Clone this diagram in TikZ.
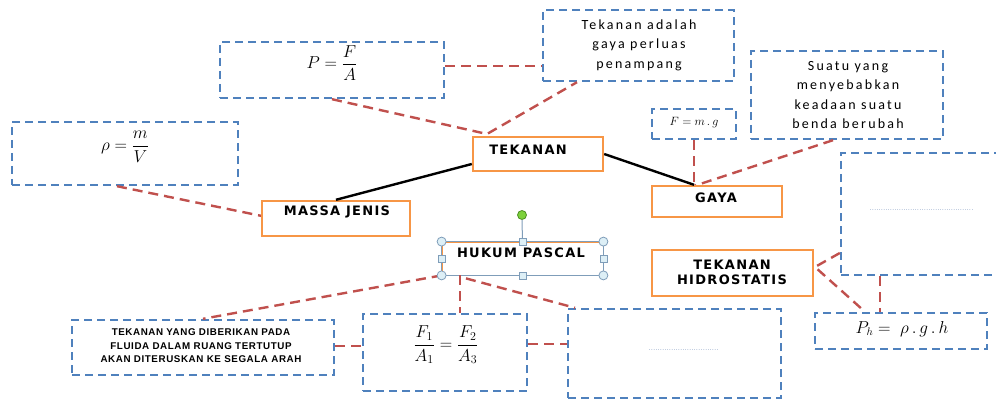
\documentclass[tikz,border=0pt]{standalone}
\usepackage{fontspec}
\newfontfamily\labfont[LetterSpace=10]{DejaVu Sans}
\newfontfamily\bodyfont[LetterSpace=16]{Carlito}
\newfontfamily\smallfont[LetterSpace=6]{Liberation Sans}
\definecolor{blueC}{HTML}{4F81BD}
\definecolor{orC}{HTML}{F79646}
\definecolor{redC}{HTML}{C0504D}
\definecolor{handleF}{HTML}{DDEFF6}
\definecolor{handleD}{HTML}{7F9DB9}
\definecolor{greenF}{HTML}{7CD13A}
\definecolor{greenD}{HTML}{4E8F24}
\definecolor{dotC}{HTML}{3F62A0}
\begin{document}
\begin{tikzpicture}[x=1pt,y=-1pt,
  bluebox/.style={draw=blueC,line width=2.4pt,dash pattern=on 8pt off 5pt,inner sep=0pt},
  orbox/.style={draw=orC,line width=2.4pt,fill=white,inner sep=0pt},
  redline/.style={draw=redC,line width=2.4pt,dash pattern=on 10pt off 6pt},
  solidline/.style={draw=black,line width=2.4pt},
  lab/.style={font=\labfont\bfseries\fontsize{13}{15}\selectfont,align=center,inner sep=0pt},
  body/.style={font=\bodyfont\fontsize{14}{19.5}\selectfont,align=center,inner sep=0pt},
  smalltxt/.style={font=\smallfont\bfseries\fontsize{9.8}{13.5}\selectfont,align=center,inner sep=0pt},
  mathtxt/.style={inner sep=0pt},
  dots/.style={inner sep=0pt,font=\fontsize{7}{7}\selectfont,text=dotC},
  hcirc/.style={circle,draw=handleD,fill=handleF,line width=0.8pt,minimum size=9pt,inner sep=0pt},
  hsq/.style={rectangle,draw=handleD,fill=handleF,line width=0.8pt,minimum size=7pt,inner sep=0pt},
  gcirc/.style={circle,draw=greenD,fill=greenF,line width=0.8pt,minimum size=9pt,inner sep=0pt}]
\useasboundingbox (0,0) rectangle (996,401);
\clip (0,0) rectangle (996,401);

% boxes
\node[bluebox,minimum width=224pt,minimum height=56pt] (pbox) at (332,70) {};
\node[bluebox,minimum width=191pt,minimum height=71pt] (defbox) at (638.5,45.5) {};
\node[bluebox,minimum width=226pt,minimum height=63pt] (rhobox) at (125,153.5) {};
\node[bluebox,minimum width=84pt,minimum height=30pt] (fmgbox) at (694,124) {};
\node[bluebox,minimum width=192pt,minimum height=88pt] (suatubox) at (847,95) {};
\node[bluebox,minimum width=169pt,minimum height=122pt] (bigbox) at (925.5,214) {};
\node[bluebox,minimum width=172pt,minimum height=36pt] (phbox) at (901,331) {};
\node[bluebox,minimum width=262pt,minimum height=55pt] (pasbox) at (203,347.5) {};
\node[bluebox,minimum width=164pt,minimum height=77pt] (frbox) at (445,352.5) {};
\node[bluebox,minimum width=213pt,minimum height=89pt] (dotbox) at (674.5,353.5) {};

% red dashed connectors
\draw[redline] ([yshift=4pt]pbox.east) -- ([yshift=-20.5pt]defbox.west);
\coordinate (tekj) at (487,134);
\draw[redline] (pbox.south) -- (tekj) -- ([xshift=-61.5pt]defbox.south);
\draw[redline] ([xshift=-8pt]rhobox.south) -- (262,216) coordinate (massj);
\coordinate (gayaj) at (694,186);
\draw[redline] (fmgbox.south) -- (gayaj);
\draw[redline] ([xshift=-14pt]suatubox.south) -- (gayaj);
\coordinate (hidj) at (815,267);
\draw[redline] ([yshift=-39pt]bigbox.west) -- (hidj) -- ([xshift=-36pt]phbox.north);
\draw[redline] ([xshift=-45.5pt]bigbox.south) -- ([xshift=-21pt]phbox.north);

% orange boxes
\node[orbox,minimum width=130pt,minimum height=34pt] (tekbox) at (538,154) {};
\node[orbox,minimum width=148pt,minimum height=35pt] (massbox) at (336,218.5) {};
\node[orbox,minimum width=130pt,minimum height=31pt] (gayabox) at (717,201.5) {};
\node[orbox,minimum width=161pt,minimum height=46pt] (hidbox) at (732.5,273) {};

% solid connectors
\draw[solidline] ([yshift=-10pt]tekbox.west) -- (massbox.north);
\draw[solidline] (tekbox.east) -- ([xshift=-23pt]gayabox.north);

% HUKUM PASCAL (selected shape)
\node[draw=orC,line width=0.8pt,minimum width=161pt,minimum height=33pt,inner sep=0pt] (hukbox) at (522.5,258.5) {};
\draw[draw=handleD,line width=0.9pt] (hukbox.north west) rectangle (hukbox.south east);
\draw[redline] (hukbox.south west) -- (pasbox.north);
\draw[redline] ([xshift=-62.5pt]hukbox.south) -- ([xshift=15pt]frbox.north);
\draw[redline] ([xshift=-56.5pt,yshift=-3pt]hukbox.south) -- ([xshift=-99.5pt]dotbox.north);
\draw[redline] ([yshift=1.5pt]pasbox.east) -- ([yshift=6.5pt]frbox.west);
\draw[redline] ([yshift=8.5pt]frbox.east) -- ([yshift=9.5pt]dotbox.west);
\node[gcirc] (hg) at (522,215) {};
\draw[draw=handleD,line width=1pt] (hg.south) -- (hukbox.north);
\node[hcirc] (hnw) at (hukbox.north west) {};
\node[hcirc] (hne) at (hukbox.north east) {};
\node[hcirc] (hsw) at (hukbox.south west) {};
\node[hcirc] (hse) at (hukbox.south east) {};
\node[hsq] (hn) at (hukbox.north) {};
\node[hsq] (hs) at (hukbox.south) {};
\node[hsq] (hw) at (hukbox.west) {};
\node[hsq] (he) at (hukbox.east) {};

% texts
\node[mathtxt,font=\fontsize{17}{20}\selectfont] (ptxt) at (332,63) {$\displaystyle P=\frac{F}{A}$};
\node[body] (deftxt) at (639,45) {Tekanan adalah\\gaya perluas\\penampang};
\node[mathtxt,font=\fontsize{16}{19}\selectfont] (rhotxt) at (125,147) {$\displaystyle \rho=\frac{m}{V}$};
\node[lab] (tektxt) at (528,150) {TEKANAN};
\node[lab] (masstxt) at (337,212) {MASSA JENIS};
\node[lab] (gayatxt) at (716,198) {GAYA};
\node[mathtxt,font=\fontsize{12.5}{14}\selectfont] (fmgtxt) at (694,123) {$F=m\,.\,g$};
\node[body] (suatutxt) at (848,95) {Suatu yang\\menyebabkan\\keadaan suatu\\benda berubah};
\node[lab] (hidtxt) at (732,272) {TEKANAN\\HIDROSTATIS};
\node[lab] (huktxt) at (521,253) {HUKUM PASCAL};
\node[mathtxt,font=\fontsize{16}{19}\selectfont] (phtxt) at (902,329) {$P_h=\ \rho\,.\,g\,.\,h$};
\node[smalltxt] (pastxt) at (201,346) {TEKANAN YANG DIBERIKAN PADA\\FLUIDA DALAM RUANG TERTUTUP\\AKAN DITERUSKAN KE SEGALA ARAH};
\node[mathtxt,font=\fontsize{18}{21}\selectfont] (frtxt) at (446,345) {$\displaystyle \frac{F_1}{A_1}=\frac{F_2}{A_3}$};
\node[dots] (dot1) at (684,350) {\hbox to 71pt{\leaders\hbox{.}\hfill}};
\node[dots] (dot2) at (922,210) {\hbox to 105pt{\leaders\hbox{.}\hfill}};
\end{tikzpicture}
\end{document}
